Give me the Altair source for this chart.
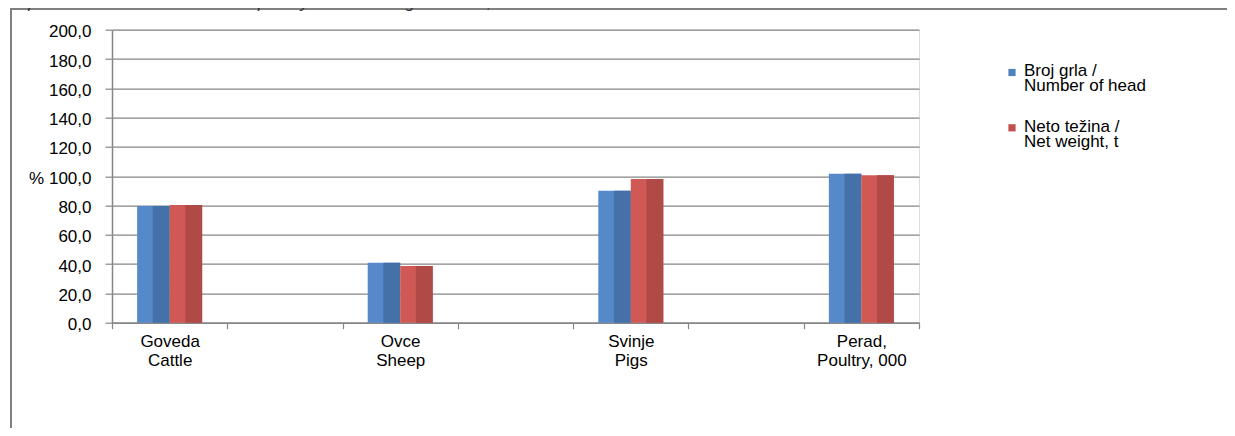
import altair as alt
import pandas as pd

title_text = "Graph 1. Number of livestock and poultry and nett weight indices, VIII 2020/ VIII 2019"
categories_local = ["Goveda", "Ovce", "Svinje", "Perad,"]
categories_en = ["Cattle", "Sheep", "Pigs", "Poultry, 000"]
series = ["Broj grla /\nNumber of head", "Neto težina /\nNet weight, t"]
head_index = [79.6, 41.0, 90.1, 101.7]
weight_index = [80.3, 38.7, 98.1, 100.6]
y_ticks = [0, 20, 40, 60, 80, 100, 120, 140, 160, 180, 200]
colors = ["#4f81bd", "#c0504d"]
light_faces = ["#5589ca", "#d05955"]
dark_faces = ["#4371a8", "#b04a47"]

cat_keys = [f"{a}\n{b}" for a, b in zip(categories_local, categories_en)]
x_domain = []
for i, k in enumerate(cat_keys):
    x_domain.append(k)
    if i < len(cat_keys) - 1:
        x_domain.append(f"gap{i}")

head_df = pd.DataFrame({"category": cat_keys, "value": head_index, "series": series[0]})
weight_df = pd.DataFrame({"category": cat_keys, "value": weight_index, "series": series[1]})
title_df = pd.DataFrame({"t": [title_text]})
legend_df = pd.DataFrame({"series": series, "color": colors})

FONT = "Liberation Sans"
FS = 17
AXIS_GRAY = "#868686"
SVG_W, SVG_H = 1219, 420
PL, PT = 104, 21.7
PW, PH = 807, 293
PR, PB = SVG_W - PL - PW, SVG_H - PT - PH
BW = 32.5  # bar width px

y_scale = alt.Scale(domain=[0, 200], nice=False, zero=True)
y_axis = alt.Axis(
    values=y_ticks, title=None, grid=True, gridColor=AXIS_GRAY, gridWidth=1.2,
    format=".1f",
    labelExpr="(datum.value == 100 ? '% ' : '') + replace(datum.label, '.', ',')",
    domainColor=AXIS_GRAY, domainWidth=1.5, tickColor=AXIS_GRAY, tickWidth=1.2, tickSize=7,
    labelPadding=14, labelFont=FONT, labelFontSize=FS, labelColor="#000000", labelOffset=2,
)
x_scale = alt.Scale(domain=x_domain, paddingInner=0, paddingOuter=0)
x_axis = alt.Axis(
    title=None, labelAngle=0, tickBand="extent", grid=False,
    labelExpr="isString(datum.value) && indexof(datum.value, 'gap') != 0 ? split(datum.value, '\\n') : ''",
    domainColor=AXIS_GRAY, domainWidth=1.5, tickColor=AXIS_GRAY, tickWidth=1.2, tickSize=6,
    labelPadding=5, labelLineHeight=19, labelFont=FONT, labelFontSize=FS, labelColor="#000000",
)

enc = dict(
    x=alt.X("category:N", scale=x_scale, axis=x_axis),
    y=alt.Y("value:Q", scale=y_scale, axis=y_axis),
)

bar_layers = []
for i, df in enumerate([head_df, weight_df]):
    side = -1 if i == 0 else 1
    bar_layers.append(
        alt.Chart(df).mark_bar(width=BW, xOffset=side * BW / 2, color=light_faces[i]).encode(**enc)
    )
    bar_layers.append(
        alt.Chart(df).mark_bar(width=BW * 0.52, xOffset=side * BW / 2 + BW * 0.24,
                               color=dark_faces[i]).encode(**enc)
    )

legend_layers = []
for i, s in enumerate(series):
    dy = i * 55.3
    one = legend_df[legend_df["series"] == s]
    legend_layers.append(
        alt.Chart(one).mark_square(size=52, opacity=1, strokeWidth=0, color=colors[i]).encode(
            x=alt.value(900), y=alt.value(42.8 + dy)
        )
    )
    legend_layers.append(
        alt.Chart(one).mark_text(
            align="left", baseline="top", lineBreak="\n", lineHeight=15,
            font=FONT, fontSize=FS, color="#000000",
        ).encode(x=alt.value(912), y=alt.value(33.6 + dy), text="series:N")
    )

frame_top = alt.Chart(title_df).mark_rule(color="#808080", strokeWidth=2).encode(
    x=alt.value(2.5 - PL), x2=alt.value(SVG_W - PL), y=alt.value(1.0 - PT)
)
frame_left = alt.Chart(title_df).mark_rule(color="#808080", strokeWidth=2).encode(
    x=alt.value(3.0 - PL), y=alt.value(-PT), y2=alt.value(SVG_H - PT)
)
title = alt.Chart(title_df).mark_text(
    align="left", baseline="alphabetic", fontStyle="italic", font=FONT,
    fontSize=FS, color="#333333",
).encode(x=alt.value(-8 - PL), y=alt.value(-0.5 - PT), text="t:N")

chart = alt.layer(*bar_layers, *legend_layers, frame_top, frame_left, title).properties(
    width=PW, height=PH, autosize=alt.AutoSizeParams(type="none"),
    padding={"left": PL, "top": PT, "right": PR, "bottom": PB},
).configure_view(stroke=None).configure(font=FONT)

chart.save("out.html", embed_options={"renderer": "svg", "actions": False})
